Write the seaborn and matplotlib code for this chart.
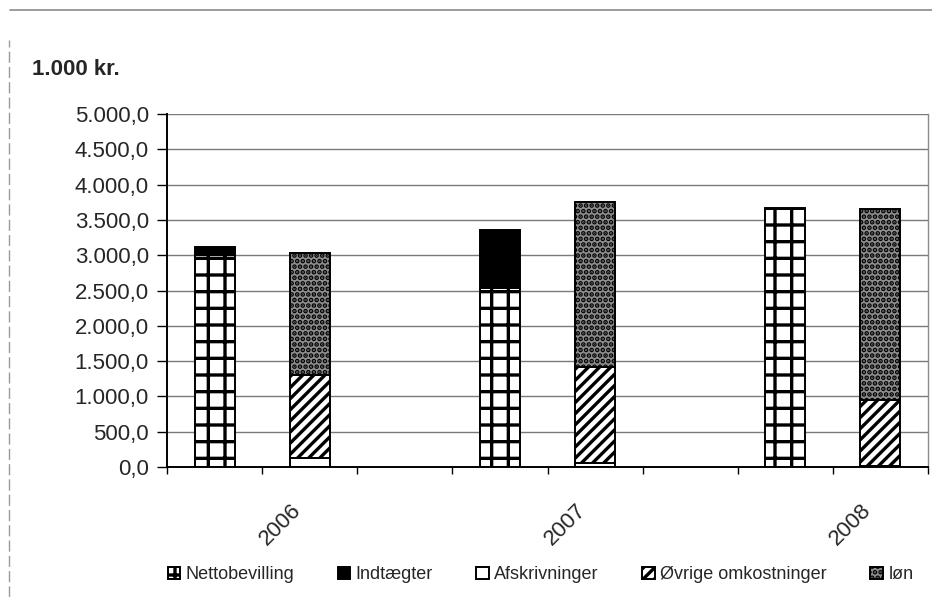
import numpy as np
import pandas as pd
import seaborn as sns
import matplotlib
import matplotlib.pyplot as plt
import matplotlib.transforms as mtransforms
from matplotlib.lines import Line2D

# values (1.000 kr.)
years = ['2006', '2007', '2008']
nettobevilling = [3000, 2540, 3650]
indtaegter = [110, 810, 20]
afskrivninger = [130, 60, 10]
ovrige = [1170, 1360, 940]
lon = [1730, 2330, 2700]
yticks = np.arange(0, 5001, 500)

df = pd.DataFrame({'year': years, 'Nettobevilling': nettobevilling, 'Indtægter': indtaegter,
                   'Afskrivninger': afskrivninger, 'Øvrige omkostninger': ovrige, 'løn': lon})

sns.set_theme(style='white')
plt.rcParams['font.family'] = ['Liberation Sans', 'DejaVu Sans']
plt.rcParams['hatch.linewidth'] = 2.4

fig = plt.figure(figsize=(9.32, 5.97), dpi=100)
ax = fig.add_axes([167/932, 1-467/597, (928-167)/932, (467-114)/597])

# income bar and expense bar per year, with an empty slot between years
x_inc = np.arange(len(years))*3 + 0.5
x_exp = np.arange(len(years))*3 + 1.5
w = 0.42
edge = dict(edgecolor='black', linewidth=1.4)

ax.bar(x_inc, df['Nettobevilling'], w, color='white', hatch='+', label='Nettobevilling', **edge)
ax.bar(x_inc, df['Indtægter'], w, bottom=df['Nettobevilling'], color='black',
       label='Indtægter', **edge)
ax.bar(x_exp, df['Afskrivninger'], w, color='white', label='Afskrivninger', **edge)
ax.bar(x_exp, df['Øvrige omkostninger'], w, bottom=df['Afskrivninger'], color='white',
       hatch='///', label='Øvrige omkostninger', **edge)
ax.bar(x_exp, df['løn'], w, bottom=df['Afskrivninger']+df['Øvrige omkostninger'],
       color='#8e8e8e', hatch='...', label='løn', **edge)

ax.set_xlim(0, 3*len(years)-1)
ax.set_ylim(0, 5000)
ax.set_yticks(yticks)
ax.set_yticklabels([f'{v:,.1f}'.replace(',', 'X').replace('.', ',').replace('X', '.') for v in yticks],
                   fontsize=16)
ax.yaxis.grid(True, color='#7a7a7a', linewidth=1.0)
ax.set_axisbelow(True)

# boundary ticks without labels, year labels between the two bars of each year
ax.xaxis.remove_overlapping_locs = False
ax.set_xticks(np.arange(0, 3*len(years)))
ax.set_xticklabels([])
ax.set_xticks(x_inc + 0.5, minor=True)
ax.tick_params(axis='x', which='major', bottom=True, length=5, width=1, color='black')
ax.tick_params(axis='x', which='minor', bottom=True, length=0, pad=6)
ax.tick_params(axis='y', left=True, length=7, width=1, color='black', pad=6)
ax.set_xticklabels(years, minor=True, rotation=45, ha='center', fontsize=16)
offset = mtransforms.ScaledTranslation(0.18, -0.24, fig.dpi_scale_trans)
for lab in ax.get_xticklabels(minor=True):
    lab.set_transform(lab.get_transform() + offset)

for side in ['left', 'bottom']:
    ax.spines[side].set_color('black')
    ax.spines[side].set_linewidth(1.4)
ax.spines['top'].set_visible(False)
ax.spines['right'].set_color('#8a8a8a')
ax.spines['right'].set_linewidth(1.0)

fig.text(32/932, 1-75/597, '1.000 kr.', fontsize=16, fontweight='bold', va='baseline', ha='left')

handles, labels = ax.get_legend_handles_labels()
fig.legend(handles, labels, loc='center', bbox_to_anchor=(0.58, 0.037), ncol=5, frameon=False,
           fontsize=13, handlelength=0.7, handleheight=0.7, handletextpad=0.3, columnspacing=2.4)

# page frame lines from the scanned report
fig.add_artist(Line2D([10/932, 1], [1-10/597, 1-10/597], color='#8a8a8a', linewidth=1.2))
fig.add_artist(Line2D([9/932, 9/932], [0, 1-40/597], color='#9a9a9a', linewidth=1.0,
                      linestyle=(0, (8, 3))))

fig.savefig('out.png', dpi=100)
